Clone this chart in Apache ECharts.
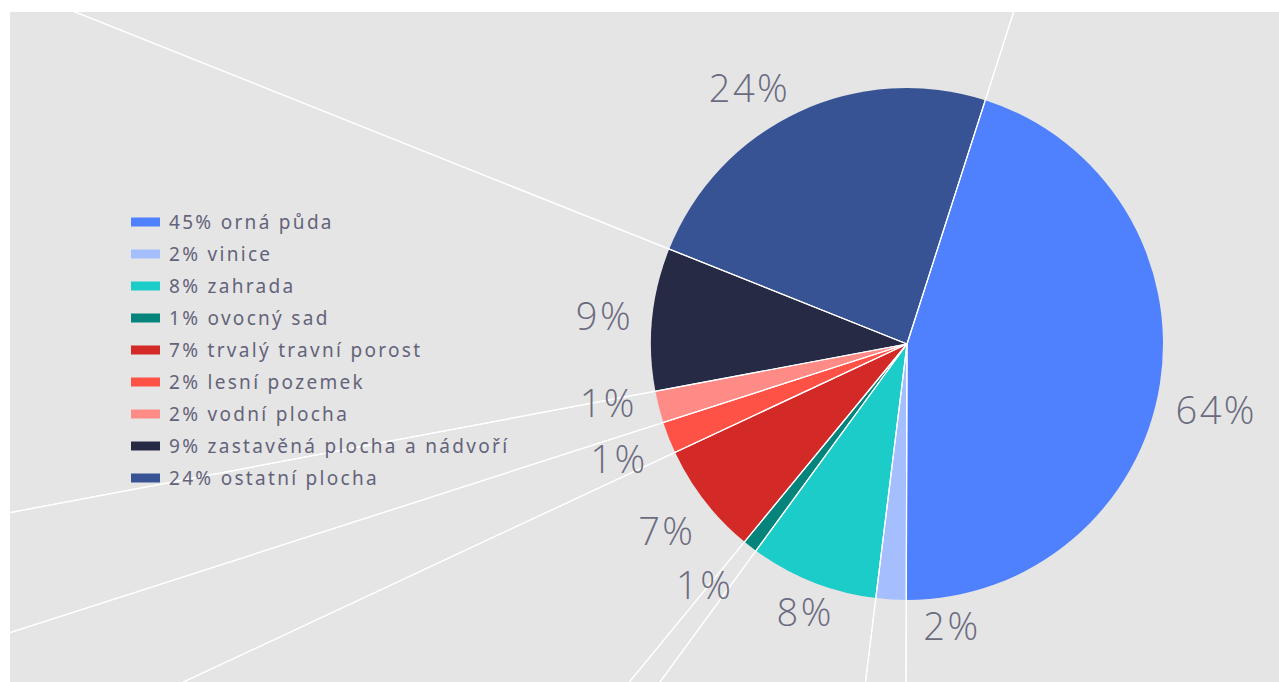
<!DOCTYPE html>
<html lang="cs">
<head>
    <meta charset="utf-8" />
    <title>Druhy pozemků</title>
    <script type="text/javascript" src="https://cdn.jsdelivr.net/npm/echarts@6/dist/echarts.min.js"></script>
    <style type="text/css">
        body { margin: 0; background: #fff; }
        #main {
            position: absolute;
            left: 10px;
            top: 12px;
            width: 1269px;
            height: 670px;
            background: #e5e5e5;
            overflow: hidden;
        }
        #main text { letter-spacing: 2.3px; }
        #main text[style*="38px"] { letter-spacing: 2.5px; }
    </style>
</head>
<body>
    <div id="main"></div>

    <script type="text/javascript">
        // kategorie (legenda) a hodnoty v %
        var categories = ['orná půda', 'vinice', 'zahrada', 'ovocný sad', 'trvalý travní porost',
            'lesní pozemek', 'vodní plocha', 'zastavěná plocha a nádvoří', 'ostatní plocha'];
        var values = [45.1, 1.9, 8.1, 0.9, 7.1, 2.0, 2.0, 9.0, 23.9];
        var legendPct = ['45%', '2%', '8%', '1%', '7%', '2%', '2%', '9%', '24%'];
        var labelTexts = ['64%', '2%', '8%', '1%', '7%', '1%', '1%', '9%', '24%'];
        var colors = ['#4f81fe', '#a5bffe', '#1bccc8', '#04847a', '#d32a27',
            '#ff5247', '#ff8b87', '#272a45', '#375394'];

        var myChart = echarts.init(document.getElementById('main'), null, { renderer: 'svg' });

        // drobné posunutí popisků, aby se nepřekrývaly
        var nudge = {
            0: [9, 18],
            1: [64, -22],
            2: [10, -16],
            3: [-16, 0],
            5: [-5, 3],
            6: [-4, -17],
            8: [-28, 18]
        };

        var mainData = [];
        var ghostData = [];
        var labelData = [];
        for (var i = 0; i < categories.length; i++) {
            mainData.push({ name: categories[i], value: values[i], itemStyle: { color: colors[i] } });
            ghostData.push({ value: values[i] });
            labelData.push({
                value: values[i],
                label: { formatter: labelTexts[i], offset: nudge[i] || [0, 0] }
            });
        }

        var center = [897, 332];
        var startAngle = 72.2;

        var option = {
            animation: false,
            legend: {
                orient: 'vertical',
                left: 116,
                top: 195,
                itemWidth: 29,
                itemHeight: 9,
                itemGap: 12,
                icon: 'rect',
                data: categories,
                itemStyle: { borderWidth: 0 },
                textStyle: {
                    fontFamily: 'Noto Sans',
                    fontSize: 19,
                    lineHeight: 20,
                    color: '#63637a',
                    padding: [0, 0, 0, 4]
                },
                formatter: function (name) {
                    return legendPct[categories.indexOf(name)] + ' ' + name;
                }
            },
            series: [{
                name: 'pozemky',
                type: 'pie',
                silent: true,
                center: center,
                radius: [0, 256],
                startAngle: startAngle,
                clockwise: true,
                label: { show: false },
                labelLine: { show: false },
                itemStyle: { borderWidth: 0 },
                data: mainData
            }, {
                // popisky kolem koláče
                type: 'pie',
                silent: true,
                center: center,
                radius: [276, 326],
                startAngle: startAngle,
                clockwise: true,
                avoidLabelOverlap: false,
                itemStyle: { color: 'rgba(0,0,0,0)', borderWidth: 0 },
                label: {
                    show: true,
                    position: 'inside',
                    fontFamily: 'Open Sans',
                    fontWeight: 300,
                    fontSize: 38,
                    lineHeight: 30,
                    color: '#6b6b80'
                },
                labelLayout: { hideOverlap: false },
                labelLine: { show: false },
                data: labelData
            }, {
                // bílé paprsky přes celou plochu
                type: 'pie',
                silent: true,
                center: center,
                radius: [0, 1400],
                startAngle: startAngle,
                clockwise: true,
                itemStyle: { color: 'rgba(0,0,0,0)', borderColor: '#ffffff', borderWidth: 1.2 },
                label: { show: false },
                labelLine: { show: false },
                data: ghostData
            }]
        };
        myChart.setOption(option, true);
    </script>
</body>
</html>
